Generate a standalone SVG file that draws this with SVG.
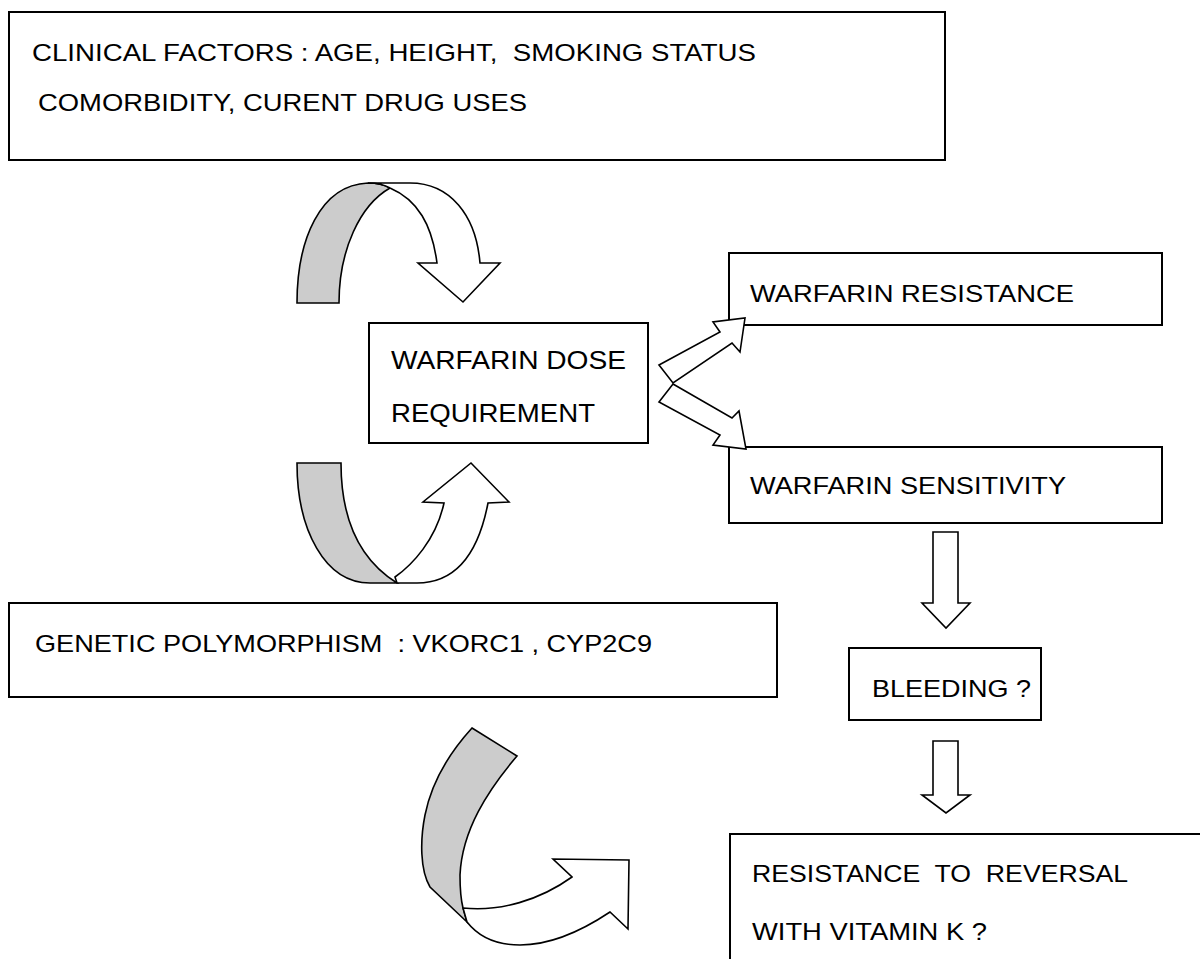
<svg xmlns="http://www.w3.org/2000/svg" width="1200" height="959" viewBox="0 0 1200 959">
<style>
.box{fill:#fff;stroke:#000;stroke-width:2}
.t{font-family:"Liberation Sans",Arial,sans-serif;font-size:24px;fill:#000;white-space:pre}
.arr{fill:#fff;stroke:#000;stroke-width:1.6;stroke-linejoin:miter}
.back{fill:#cccccc;stroke:#000;stroke-width:1.6}
</style>
<rect width="1200" height="959" fill="#fff"/>
<g id="clinical">
  <rect class="box" x="9" y="12" width="936" height="148"/>
  <text class="t" x="32" y="61" textLength="724" lengthAdjust="spacingAndGlyphs">CLINICAL FACTORS : AGE, HEIGHT,  SMOKING STATUS</text>
  <text class="t" x="38" y="111" textLength="489" lengthAdjust="spacingAndGlyphs">COMORBIDITY, CURENT DRUG USES</text>
</g>
<g id="dose">
  <rect class="box" x="369" y="323" width="279" height="120"/>
  <text class="t" style="font-size:26px" x="391" y="369" textLength="235" lengthAdjust="spacingAndGlyphs">WARFARIN DOSE</text>
  <text class="t" style="font-size:26px" x="391" y="422" textLength="204" lengthAdjust="spacingAndGlyphs">REQUIREMENT</text>
</g>
<g id="resistance">
  <rect class="box" x="729" y="253" width="433" height="72"/>
  <text class="t" x="750" y="302" textLength="324" lengthAdjust="spacingAndGlyphs">WARFARIN RESISTANCE</text>
</g>
<g id="sensitivity">
  <rect class="box" x="729" y="447" width="433" height="76"/>
  <text class="t" x="750" y="494" textLength="316" lengthAdjust="spacingAndGlyphs">WARFARIN SENSITIVITY</text>
</g>
<g id="genetic">
  <rect class="box" x="9" y="603" width="768" height="94"/>
  <text class="t" x="35" y="652" textLength="617" lengthAdjust="spacingAndGlyphs">GENETIC POLYMORPHISM  : VKORC1 , CYP2C9</text>
</g>
<g id="bleeding">
  <rect class="box" x="849" y="648" width="192" height="72"/>
  <text class="t" x="872" y="697" textLength="159" lengthAdjust="spacingAndGlyphs">BLEEDING ?</text>
</g>
<g id="reversal">
  <rect class="box" x="730" y="834" width="500" height="160"/>
  <text class="t" x="752" y="882" textLength="376" lengthAdjust="spacingAndGlyphs">RESISTANCE  TO  REVERSAL</text>
  <text class="t" x="752" y="940" textLength="235" lengthAdjust="spacingAndGlyphs">WITH VITAMIN K ?</text>
</g>
<g id="connectors">
  <g id="curve-top">
    <path class="back" d="M297,303 C297,240 320,185 368,183 C378,183 385,185 390,188 C360,205 339,250 339,303 Z"/>
    <path class="arr" d="M368,183 L410,183 C450,183 476,215 480,263 L500,263 L463,302 L418,263 L437,263 C432,225 418,200 390,188 C385,185 378,183 368,183 Z"/>
  </g>
  <g id="curve-mid">
    <path class="back" d="M297,463 L341,463 C341,520 360,560 397,583 L370,583 C325,583 297,530 297,463 Z"/>
    <path class="arr" d="M395,577 C412,565 436,540 444,503 L423,502 L471,463 L509,502 L488,503 C478,555 455,583 417,583 L397,583 Z"/>
  </g>
  <g id="curve-bottom">
    <path class="back" d="M472,728 L517,756 C488,790 462,830 460,875 C460,890 461,900 463,908 L467,922 L430,887 C420,870 420,840 425,815 C432,780 452,750 472,728 Z"/>
    <path class="arr" d="M463,908 C500,912 540,900 572,877 L553,859 L629,860 L628,929 L610,912 C580,932 548,945 520,945 C495,945 478,936 467,922 Z"/>
  </g>
  <path id="arrow-resistance" class="arr" d="M659,365 L720,332 L713,322 L745,318 L740,352 L732,343 L673,383 Z"/>
  <path id="arrow-sensitivity" class="arr" d="M673,384 L732,418 L739,411 L746,449 L713,445 L720,435 L659,402 Z"/>
  <path id="arrow-bleeding" class="arr" d="M933,532 L958,532 L958,603 L970,603 L946,628 L922,603 L933,603 Z"/>
  <path id="arrow-reversal" class="arr" d="M933,741 L958,741 L958,795 L970,795 L946,813 L922,795 L933,795 Z"/>
</g>
</svg>
